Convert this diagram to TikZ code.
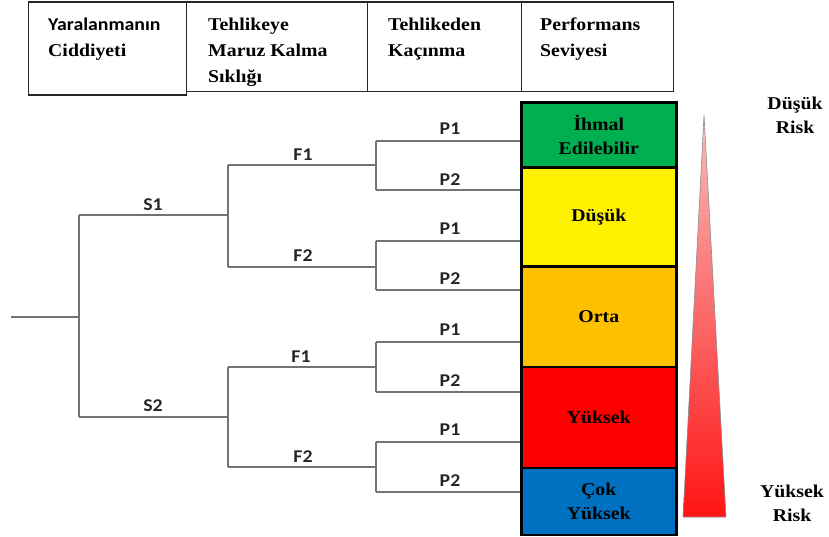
\documentclass[tikz,border=0pt]{standalone}
\usepackage{fontspec}
\setmainfont{Liberation Serif}[FakeStretch=1.1]
\newfontfamily\lblfont{Carlito}[FakeStretch=1.1]
\begin{document}
\begin{tikzpicture}[x=1pt,y=-1pt,
  hdrbox/.style={draw=black!85, line width=1.3pt, inner sep=0pt, anchor=north west},
  hdrtext/.style={anchor=north west, inner sep=0pt, align=left,
    font=\fontsize{18}{26}\selectfont\bfseries},
  branch/.style={draw=black!55, line width=1.4pt},
  lbl/.style={inner sep=0pt, font=\lblfont\fontsize{18}{20}\selectfont\bfseries, text=black!85},
  level/.style={draw=black, line width=2.6pt, inner sep=0pt, anchor=north west,
    minimum width=155pt, align=center,
    font=\fontsize{18}{24}\selectfont\bfseries},
  risk/.style={inner sep=0pt, align=center, font=\fontsize{18}{24}\selectfont\bfseries}
]
\useasboundingbox (0,0) rectangle (829,537);

% column headers
\node[hdrbox, minimum width=158pt, minimum height=93pt] (h1) at (28,1.5) {};
\node[hdrbox, minimum width=181pt, minimum height=89.5pt] (h2) at (186,1.5) {};
\node[hdrbox, minimum width=154pt, minimum height=89.5pt] (h3) at (367,1.5) {};
\node[hdrbox, minimum width=152pt, minimum height=89.5pt] (h4) at (521,1.5) {};
\node[hdrtext] (t1) at (48,17.5) {{\lblfont Yaralanmanın}\\Ciddiyeti};
\node[hdrtext] (t2) at (208,17.5) {Tehlikeye\\Maruz Kalma\\Sıklığı};
\node[hdrtext] (t3) at (388,17.5) {Tehlikeden\\Kaçınma};
\node[hdrtext] (t4) at (540,17.5) {Performans\\Seviyesi};

% performance levels
\node[level, fill={rgb,255:red,0;green,176;blue,80}, minimum height=65pt] (lv1) at (520,101) {İhmal\\Edilebilir};
\node[level, fill=yellow, minimum height=99pt] (lv2) at (520,166) {Düşük};
\node[level, fill={rgb,255:red,255;green,192;blue,0}, minimum height=100pt] (lv3) at (520,265.5) {Orta};
\node[level, fill={rgb,255:red,255;green,0;blue,0}, minimum height=101pt] (lv4) at (520,365.5) {Yüksek};
\node[level, fill={rgb,255:red,0;green,112;blue,192}, minimum height=67pt] (lv5) at (520,466.5) {Çok\\Yüksek};

% risk wedge
\shade[top color={rgb,255:red,248;green,190;blue,190}, bottom color={rgb,255:red,255;green,20;blue,20},
  draw=black!45, line width=0.6pt] (704,115) -- (726,517) -- (683,517) -- cycle;
\node[risk] (rlow) at (795,115) {Düşük\\Risk};
\node[risk] (rhigh) at (792,503) {Yüksek\\Risk};

% decision tree junctions
\coordinate (root) at (11,317);
\coordinate (js) at (79,317);
\coordinate (s1) at (79,215);
\coordinate (s2) at (79,417);
\coordinate (jf1) at (228,215);
\coordinate (jf2) at (228,417);
\coordinate (f11) at (228,165);
\coordinate (f12) at (228,267);
\coordinate (f21) at (228,367);
\coordinate (f22) at (228,467);
\coordinate (jp11) at (376,165);
\coordinate (jp12) at (376,267);
\coordinate (jp21) at (376,367);
\coordinate (jp22) at (376,467);

\draw[branch] (root) -- (js);
\draw[branch] (s1) -- (s2);
\draw[branch] (s1) -- (jf1);
\draw[branch] (s2) -- (jf2);
\draw[branch] (f11) -- (f12);
\draw[branch] (f21) -- (f22);
\draw[branch] (f11) -- (jp11);
\draw[branch] (f12) -- (jp12);
\draw[branch] (f21) -- (jp21);
\draw[branch] (f22) -- (jp22);

% avoidance branches into the level column
\foreach \j/\ya/\yb in {jp11/141/190, jp12/241/290, jp21/342/392, jp22/442/492}{
  \draw[branch] (376,\ya) -- (376,\yb);
  \draw[branch] (376,\ya) -- (lv1.west |- 0,\ya);
  \draw[branch] (376,\yb) -- (lv1.west |- 0,\yb);
}

% branch labels
\node[lbl] (ls1) at (153,205) {S1};
\node[lbl] (ls2) at (153,406) {S2};
\node[lbl] (lf11) at (303,155) {F1};
\node[lbl] (lf12) at (303,256) {F2};
\node[lbl] (lf21) at (301,357) {F1};
\node[lbl] (lf22) at (303,457) {F2};
\node[lbl] (lp1) at (450,129) {P1};
\node[lbl] (lp2) at (450,180) {P2};
\node[lbl] (lp3) at (450,229) {P1};
\node[lbl] (lp4) at (450,279) {P2};
\node[lbl] (lp5) at (450,330) {P1};
\node[lbl] (lp6) at (450,381) {P2};
\node[lbl] (lp7) at (450,430) {P1};
\node[lbl] (lp8) at (450,481) {P2};
\end{tikzpicture}
\end{document}
